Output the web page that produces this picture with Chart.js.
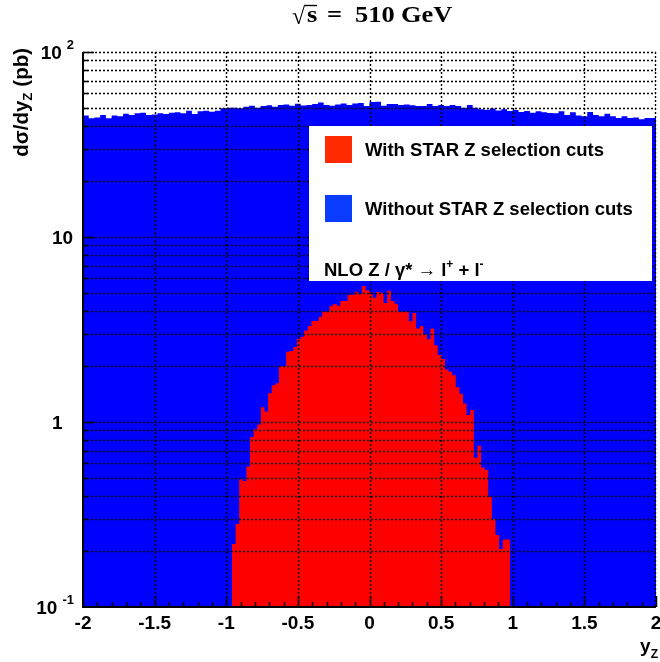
<!DOCTYPE html>
<html>
<head>
<meta charset="utf-8">
<script src="https://cdn.jsdelivr.net/npm/chart.js@4/dist/chart.umd.min.js"></script>
<style>
html, body { margin: 0; padding: 0; background: #ffffff; }
#wrap { width: 660px; height: 662px; }
</style>
</head>
<body>
<div id="wrap"><canvas id="c" width="660" height="662"></canvas></div>
<script>
// ---------- data ----------
// Without STAR Z selection cuts: 100 bins of width 0.04 from -2 to 2 (pb)
const BLUE_VALUES = [
  43.3, 45.3, 43.8, 44.3, 45.6, 43.8, 45.3, 45.0, 46.3, 45.6,
  46.6, 47.0, 45.6, 46.0, 46.6, 46.2, 47.0, 47.2, 46.6, 48.1,
  46.2, 47.8, 48.1, 47.6, 48.1, 49.6, 50.0, 50.0, 49.6, 50.6,
  51.3, 50.0, 51.0, 51.5, 50.6, 51.7, 52.0, 51.3, 52.5, 51.4,
  51.7, 52.3, 53.4, 51.7, 51.2, 52.0, 52.6, 51.7, 52.6, 53.0,
  51.0, 53.6, 53.8, 51.2, 52.3, 52.3, 51.7, 52.0, 51.5, 51.0,
  51.0, 52.3, 51.0, 51.7, 51.0, 51.7, 51.0, 50.0, 51.7, 50.0,
  49.0, 48.8, 49.5, 48.3, 49.0, 48.0, 48.6, 47.4, 48.0, 47.0,
  47.8, 47.2, 46.8, 46.6, 47.8, 45.6, 47.2, 45.4, 45.0, 47.4,
  45.6, 45.0, 46.3, 45.0, 44.0, 45.0, 44.0, 44.3, 43.3, 44.0
];
const BLUE_FIRST_EDGE = -2;
const BLUE_BIN_WIDTH = 0.04;

// With STAR Z selection cuts: 77 bins starting at -0.96
const RED_VALUES = [
  0.18, 0.219, 0.281, 0.49, 0.48, 0.574, 0.83, 0.914, 0.97, 1.2,
  1.14, 1.43, 1.58, 1.62, 2.0, 2.0, 2.4, 2.42, 2.54, 2.81,
  2.89, 3.12, 3.3, 3.52, 3.52, 3.71, 3.95, 3.95, 4.24, 4.35,
  4.25, 4.51, 4.51, 4.88, 4.88, 5.06, 4.9, 5.43, 5.15, 5.05,
  4.7, 5.05, 5.0, 4.4, 5.12, 4.51, 4.36, 3.95, 3.95, 3.95,
  3.5, 3.88, 3.2, 3.3, 2.97, 2.8, 3.2, 2.6, 2.3, 2.19,
  1.92, 1.87, 1.79, 1.54, 1.42, 1.26, 1.09, 1.16, 0.64, 0.745,
  0.567, 0.55, 0.394, 0.298, 0.245, 0.206, 0.232
];
const RED_FIRST_EDGE = -0.96;
const RED_BIN_WIDTH = 0.0252;

const X_MIN = -2, X_MAX = 2, X_STEP = 0.5;
const X_GRID = [-1.5, -1, -0.5, 0, 0.5, 1, 1.5, 2];
const Y_MIN = 0.1, Y_MAX = 100;
const Y_TICK_LABELS = [
  { value: 100, base: '10', exp: '2' },
  { value: 10,  base: '10', exp: '' },
  { value: 1,   base: '1',  exp: '' },
  { value: 0.1, base: '10', exp: '-1' }
];
const LEGEND_LABELS = ['With STAR Z selection cuts', 'Without STAR Z selection cuts'];
const FILL_COLORS = ['#ff0000', '#0000ff'];
const LEGEND_COLORS = ['#ff2a00', '#0a3cff'];
const TITLE_PARTS = ['\u221A', 's', '=', '510', 'GeV'];
const X_TITLE = ['y', 'Z'];
const Y_TITLE = ['d\u03C3/dy', 'Z', ' (pb)'];

// ---------- helpers ----------
const SANS = '"Liberation Sans", Arial, Helvetica, sans-serif';
const SERIF = '"Liberation Serif", "Times New Roman", serif';
const bold = (size, fam) => 'bold ' + size + 'px ' + (fam || SANS);

function histPoints(first, width, values) {
  const pts = values.map((v, i) => ({ x: first + i * width, y: v }));
  pts.push({ x: first + values.length * width, y: values[values.length - 1] });
  return pts;
}

function yGridValues() {
  const out = [];
  for (let e = -1; e <= 1; e++) {
    for (let m = 1; m <= 9; m++) {
      const v = m * Math.pow(10, e);
      if (v > Y_MIN * 1.0001) out.push(v);
    }
  }
  out.push(100);
  return out;
}

const overlay = {
  id: 'overlay',
  afterDatasetsDraw(chart) {
    const ctx = chart.ctx, xs = chart.scales.x, ys = chart.scales.y, a = chart.chartArea;
    ctx.save();

    // dotted grid on top of the histograms
    ctx.strokeStyle = '#000';
    ctx.lineWidth = 1.4;
    ctx.setLineDash([2, 2]);
    ctx.beginPath();
    X_GRID.forEach(v => {
      const p = Math.min(Math.round(xs.getPixelForValue(v)), Math.floor(a.right) - 1) + 0.5;
      ctx.moveTo(p, a.top); ctx.lineTo(p, a.bottom);
    });
    yGridValues().forEach(v => {
      const p = Math.round(ys.getPixelForValue(v)) + 0.5;
      ctx.moveTo(a.left, p); ctx.lineTo(a.right, p);
    });
    ctx.stroke();
    ctx.setLineDash([]);

    // legend box
    ctx.fillStyle = '#ffffff';
    ctx.fillRect(309, 126, 343, 155);
    ctx.fillStyle = LEGEND_COLORS[0];
    ctx.fillRect(325, 136, 27, 27);
    ctx.fillStyle = LEGEND_COLORS[1];
    ctx.fillRect(325, 195, 27, 27);
    ctx.fillStyle = '#000';
    ctx.textAlign = 'left';
    ctx.textBaseline = 'alphabetic';
    ctx.font = bold(18.5);
    ctx.fillText(LEGEND_LABELS[0], 365, 156);
    ctx.fillText(LEGEND_LABELS[1], 365, 215);

    // process label
    let x = 324;
    const by = 276;
    const seg = (t, size, dy) => { ctx.font = bold(size); ctx.fillText(t, x, by + dy); x += ctx.measureText(t).width; };
    seg('NLO Z / \u03B3* \u2192 l', 18.5, 0);
    seg('+', 12, -8);
    seg(' + l', 18.5, 0);
    seg('-', 12, -8);

    // axis lines
    ctx.strokeStyle = '#000';
    ctx.lineWidth = 2;
    ctx.beginPath();
    ctx.moveTo(a.left, a.top);
    ctx.lineTo(a.left, a.bottom);
    ctx.lineTo(a.right, a.bottom);
    ctx.stroke();

    // tick marks (inside)
    ctx.lineWidth = 1.5;
    ctx.beginPath();
    for (let k = -20; k <= 20; k++) {
      const p = Math.round(xs.getPixelForValue(k / 10)) + 0.5;
      const len = (k % 5 === 0) ? 11 : 5;
      ctx.moveTo(p, a.bottom); ctx.lineTo(p, a.bottom - len);
    }
    yGridValues().forEach(v => {
      const p = Math.round(ys.getPixelForValue(v)) + 0.5;
      const dec = Math.abs(Math.log10(v) - Math.round(Math.log10(v))) < 1e-6;
      const len = dec ? 11 : 5;
      ctx.moveTo(a.left, p); ctx.lineTo(a.left + len, p);
    });
    ctx.stroke();

    // y tick labels with superscripts
    ctx.fillStyle = '#000';
    const plainLeft = a.left - 31;
    Y_TICK_LABELS.forEach(t => {
      const py = ys.getPixelForValue(t.value);
      ctx.font = bold(19);
      const wb = ctx.measureText(t.base).width;
      if (t.exp) {
        ctx.font = bold(13);
        const we = ctx.measureText(t.exp).width;
        const right = a.left - 9;
        ctx.fillText(t.exp, right - we, py - 3);
        ctx.font = bold(19);
        ctx.fillText(t.base, right - we - 5 - wb, py + 7);
      } else {
        ctx.font = bold(19);
        ctx.fillText(t.base, plainLeft, py + 7);
      }
    });

    // x axis title
    ctx.font = bold(19);
    const wy = ctx.measureText(X_TITLE[0]).width;
    ctx.font = bold(12);
    const wz = ctx.measureText(X_TITLE[1]).width;
    const xr = a.right + 2;
    ctx.fillText(X_TITLE[1], xr - wz, 658);
    ctx.font = bold(19);
    ctx.fillText(X_TITLE[0], xr - wz - wy, 652);

    // y axis title (rotated, aligned to the top of the axis)
    ctx.save();
    ctx.translate(28, a.top - 4);
    ctx.rotate(-Math.PI / 2);
    ctx.font = bold(20.5);
    const w1 = ctx.measureText(Y_TITLE[0]).width;
    const w3 = ctx.measureText(Y_TITLE[2]).width;
    ctx.font = bold(13.5);
    const w2 = ctx.measureText(Y_TITLE[1]).width;
    let tx = -(w1 + w2 + w3);
    ctx.font = bold(20.5);
    ctx.fillText(Y_TITLE[0], tx, 0); tx += w1;
    ctx.font = bold(13.5);
    ctx.fillText(Y_TITLE[1], tx, 4); tx += w2;
    ctx.font = bold(20.5);
    ctx.fillText(Y_TITLE[2], tx, 0);
    ctx.restore();

    // title  sqrt(s) = 510 GeV
    const drawScaled = (text, px, py, size) => {
      ctx.save();
      ctx.translate(px, py);
      ctx.scale(1.15, 1);
      ctx.font = bold(size, SERIF);
      ctx.fillText(text, 0, 0);
      ctx.restore();
    };
    ctx.font = '24px ' + SERIF;
    ctx.fillText(TITLE_PARTS[0], 292, 24);
    ctx.lineWidth = 1.4;
    ctx.beginPath();
    ctx.moveTo(305, 5.5); ctx.lineTo(317, 5.5);
    ctx.stroke();
    drawScaled(TITLE_PARTS[1], 307, 22, 23);
    drawScaled(TITLE_PARTS[2], 327, 22, 23);
    drawScaled(TITLE_PARTS[3], 355, 22, 23);
    drawScaled(TITLE_PARTS[4], 401, 22, 23);

    ctx.restore();
  }
};

new Chart(document.getElementById('c'), {
  type: 'line',
  data: {
    datasets: [
      {
        label: LEGEND_LABELS[0],
        data: histPoints(RED_FIRST_EDGE, RED_BIN_WIDTH, RED_VALUES),
        stepped: 'after',
        fill: 'start',
        backgroundColor: FILL_COLORS[0],
        borderColor: 'rgba(0,0,0,0)',
        borderWidth: 0,
        pointRadius: 0,
        tension: 0
      },
      {
        label: LEGEND_LABELS[1],
        data: histPoints(BLUE_FIRST_EDGE, BLUE_BIN_WIDTH, BLUE_VALUES),
        stepped: 'after',
        fill: 'start',
        backgroundColor: FILL_COLORS[1],
        borderColor: 'rgba(0,0,0,0)',
        borderWidth: 0,
        pointRadius: 0,
        tension: 0
      }
    ]
  },
  options: {
    responsive: false,
    animation: false,
    devicePixelRatio: 1,
    layout: { padding: { left: 0, right: 4, top: 52, bottom: 0 } },
    plugins: {
      legend: { display: false },
      title: { display: false },
      tooltip: { enabled: false }
    },
    scales: {
      x: {
        type: 'linear',
        min: X_MIN,
        max: X_MAX,
        ticks: {
          stepSize: X_STEP,
          color: '#000',
          font: { family: SANS, size: 19, weight: 'bold' },
          padding: 5,
          maxRotation: 0,
          autoSkip: false,
          callback: v => String(Math.round(v * 10) / 10)
        },
        grid: { display: false, drawTicks: false },
        border: { display: false },
        afterFit(s) { s.height = 55; s.paddingLeft = 0; s.paddingRight = 0; }
      },
      y: {
        type: 'logarithmic',
        min: Y_MIN,
        max: Y_MAX,
        ticks: { display: false },
        grid: { display: false, drawTicks: false },
        border: { display: false },
        afterFit(s) { s.width = 83; s.paddingTop = 0; s.paddingBottom = 0; }
      }
    }
  },
  plugins: [overlay]
});
</script>
</body>
</html>
